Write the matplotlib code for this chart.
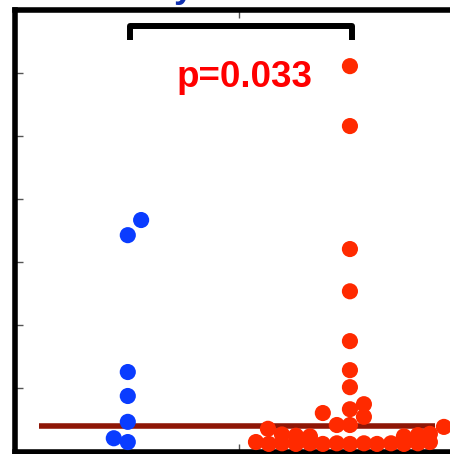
import numpy as np
from matplotlib import pyplot as plt

# values (y in tick units, x = group position + jitter)
blue_x = [1.06, 1.0, 1.0, 1.0, 1.0, 0.937, 1.0]
blue_y = [3.67, 3.43, 1.26, 0.88, 0.47, 0.21, 0.15]

red_x = [2.0, 2.0, 2.0, 2.0, 2.0, 2.0, 2.0,
         2.063, 2.0, 1.878, 2.063, 1.941, 2.0, 1.631, 2.423,
         1.577, 1.635, 1.694, 1.757, 1.82, 1.878, 1.941, 2.0, 2.063, 2.122, 2.185, 2.243, 2.306, 2.36,
         1.694, 1.757, 1.82, 2.243, 2.306, 2.36]
red_y = [6.11, 5.16, 3.21, 2.54, 1.75, 1.29, 1.02,
         0.75, 0.67, 0.61, 0.55, 0.42, 0.42, 0.36, 0.39,
         0.15, 0.12, 0.13, 0.12, 0.13, 0.12, 0.13, 0.12, 0.13, 0.12, 0.13, 0.12, 0.13, 0.15,
         0.27, 0.25, 0.24, 0.24, 0.26, 0.28]

median_y = 0.41
p_label = "p=0.033"

fig = plt.figure(figsize=(4.5, 4.54), dpi=100)
ax = fig.add_axes([14.5 / 450, 2.5 / 454, (461 - 14.5) / 450, (451.5 - 10) / 454])
ax.set_xlim(0.49, 2.5)
ax.set_ylim(0, 7)

ax.plot([0.602, 2.381], [median_y, median_y], color='#8e1606', lw=4, solid_capstyle='butt', zorder=2)
ax.scatter(blue_x, blue_y, s=135, color='#0a3cff', edgecolors='none', zorder=3)
ax.scatter(red_x, red_y, s=135, color='#ff2a00', edgecolors='none', zorder=3)

# significance bracket
ax.plot([1.011, 1.011, 2.011, 2.011], [6.52, 6.75, 6.75, 6.52], color='black', lw=4.3,
        solid_joinstyle='round', solid_capstyle='butt', zorder=4, clip_on=False)
ax.text(1.525, 5.78, p_label, color='#ff0000', fontsize=26.5, fontweight='bold',
        family='Liberation Sans', ha='center', va='baseline')

for side in ['left', 'top', 'bottom']:
    ax.spines[side].set_linewidth(4)
ax.spines['right'].set_visible(False)
ax.set_yticks(np.arange(0, 7))
ax.set_xticks([1.5])
ax.tick_params(axis='y', direction='in', length=6, width=1, color='#555555', left=True, right=False,
               labelleft=False)
ax.tick_params(axis='x', direction='in', length=6, width=1, color='#555555', top=True, bottom=True,
               labelbottom=False)

# cut-off title fragment above the plot (only the descender shows)
fig.text(174 / 450, 1 + 3.5 / 454, "y", color='#1030b0', fontsize=26, fontweight='bold',
         family='Liberation Sans', ha='left', va='baseline')

fig.savefig("out.png")
